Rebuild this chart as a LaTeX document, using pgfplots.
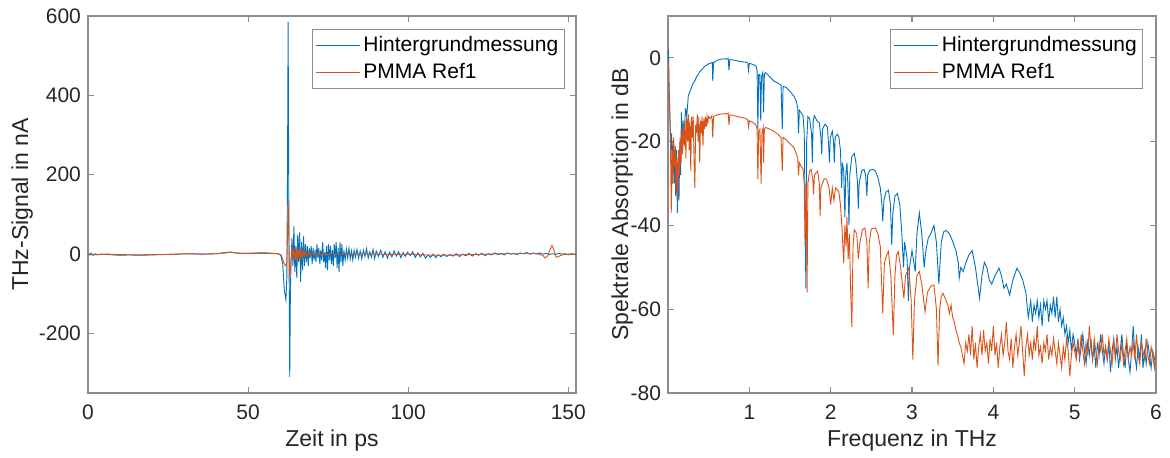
\documentclass[border=0pt]{standalone}
\usepackage{pgfplots}
\pgfplotsset{compat=1.18}
\usepackage{fontspec}
\setmainfont{Liberation Sans}
\definecolor{mblue}{RGB}{0,114,189}
\definecolor{morange}{RGB}{217,83,25}
\definecolor{axgray}{RGB}{140,140,140}
\definecolor{txtgray}{RGB}{38,38,38}
\pgfplotsset{
  mystyle/.style={
    scale only axis,
    width=244pt, height=188.5pt,
    axis line style={draw=axgray, line width=0.8pt},
    every tick/.style={draw=axgray, line width=0.6pt},
    major tick length=3pt,
    tick align=inside,
    tick label style={font=\fontsize{10.5}{12}\selectfont, text=txtgray},
    /pgf/number format/assume math mode=true,
    label style={font=\fontsize{11.5}{13}\selectfont, text=txtgray},
    xticklabel style={yshift=-2.5pt},
    legend cell align=left,
    legend style={draw=axgray, line width=0.5pt, font=\fontsize{10.5}{12}\selectfont,
      inner xsep=1.5pt, inner ysep=2pt, row sep=1.5pt, text=black,
      nodes={inner sep=1.5pt}},
    legend image code/.code={\draw[#1, line width=0.6pt] (0pt,0pt) -- (22pt,0pt);},
  }
}
\begin{document}
\begin{tikzpicture}
\useasboundingbox (-44pt,-32pt) rectangle (541pt,196.5pt);
\begin{axis}[mystyle,
  at={(0pt,0pt)}, anchor=south west,
  xmin=0, xmax=152.4, ymin=-350, ymax=600,
  xtick={0,50,100,150}, ytick={-200,0,200,400,600},
  xlabel={Zeit in ps}, ylabel={THz-Signal in nA},
  xlabel style={at={(axis description cs:0.5,-0.125)}, anchor=center},
  ylabel style={at={(axis description cs:-0.135,0.5)}, anchor=center},
  legend style={at={(axis description cs:0.977,0.966)}, anchor=north east},
]
\addplot[mblue, line width=0.45pt] table {
0 -1
1 2
1.6 -3
2.3 1
3 -2
4 0
6 -1
8 -2
10 -3
13 -2
16 -3
20 -2
24 -1
28 0
32 1
36 0
40 1
43 4
44.5 5
46 3
48 2
50 2
53 3
56 3
58 2
59.5 1
60.2 -3
60.8 -25
61.3 -90
61.8 -115
62.1 -60
62.3 200
62.5 585
62.7 150
62.85 -100
63.0 -310
63.2 -100
63.4 -20
63.7 40
64.0 -30
64.3 70
64.6 -45
64.9 20
65.2 -60
65.5 50
65.8 -20
66.1 55
66.4 -70
66.7 30
67.0 -40
67.3 45
67.6 -30
67.9 25
68.2 -20
68.5 20
68.8 -30
69.1 15
69.4 -10
69.7 20
70.0 -25
70.3 15
70.6 -15
70.9 10
71.2 -20
71.5 25
71.8 -10
72.1 15
72.4 -25
72.7 10
73.0 -15
73.3 30
73.6 -20
73.9 5
74.2 -35
74.5 20
74.8 -40
75.1 25
75.4 -15
75.7 20
76.0 -25
76.3 10
76.6 -30
76.9 25
77.2 -10
77.5 30
77.8 -35
78.1 15
78.4 -45
78.7 30
79.0 -20
79.3 25
79.6 -30
79.9 10
80.3 -15
80.7 12
81.1 -10
81.5 15
81.9 -12
82.3 8
82.7 -15
83.1 10
83.5 -8
84.0 12
84.5 -10
85.0 8
85.5 -12
86.0 10
86.5 -6
87.0 14
87.5 -10
88.0 6
88.5 -8
89.0 12
89.5 -12
90.0 8
90.7 -6
91.4 10
92.1 -8
92.8 6
93.5 -10
94.2 5
94.9 -7
95.6 8
96.3 -5
97.0 6
97.7 -9
98.4 4
99.1 -6
99.8 5
100.6 -4
101.4 6
102.2 -8
103.0 3
103.8 -7
104.6 2
105.4 -10
106.2 -2
107.0 -8
107.8 0
108.6 -9
109.4 -1
110.2 -7
111.0 0
112.0 -6
113.0 -1
114.0 -5
115.0 1
116.0 -6
117.0 0
118.0 -4
119.0 2
120.0 -5
121 1
122 -3
123 2
124 -4
125 1
126 -2
127 3
128 -1
129 2
130 -2
131 3
132 0
133 2
134 -1
135 3
136 1
137 4
138 0
139 3
140 1
141 3
142 0
143 2
144 -1
145 1
146 -1
147 2
148 0
149 1
150 -2
151 1
152.4 -1
};
\addlegendentry{Hintergrundmessung}
\addplot[morange, line width=0.45pt] table {
0 -2
3 -1
6 0
10 -1
15 -2
20 -1
25 -1
30 1
35 0
40 1
43 3
44.5 5
46 3
48 2
52 2
56 2
59 1
60.3 -2
60.8 -12
61.3 -25
61.8 -30
62.1 -20
62.3 40
62.5 131
62.7 60
62.85 -10
63.0 -60
63.2 -40
63.5 -5
63.8 15
64.1 -10
64.4 12
64.7 -15
65.0 8
65.3 -12
65.6 15
65.9 -8
66.2 10
66.5 -12
66.8 8
67.1 -6
67.4 10
67.7 -5
68 6
68.5 -6
69 5
69.5 -4
70 4
71 -4
72 3
73 -3
74 3
75 -3
76 2
78 -2
80 2
83 -1
86 1
90 0
95 -1
100 0
105 -2
110 -3
115 -2
120 -1
125 0
130 1
135 1
140 1
142 -3
142.8 -10
143.5 -5
144.2 10
144.9 22
145.5 10
146.2 -8
147 -6
148 -2
150 0
152.4 0
};
\addlegendentry{PMMA Ref1}
\end{axis}
\begin{axis}[mystyle,
  at={(290pt,0pt)}, anchor=south west,
  xmin=0, xmax=6, ymin=-80, ymax=10,
  xtick={1,2,3,4,5,6}, ytick={-80,-60,-40,-20,0},
  xlabel={Frequenz in THz}, ylabel={Spektrale Absorption in dB},
  xlabel style={at={(axis description cs:0.5,-0.125)}, anchor=center},
  ylabel style={at={(axis description cs:-0.094,0.5)}, anchor=center},
  legend style={at={(axis description cs:0.974,0.966)}, anchor=north east},
]
\addplot[mblue, line width=0.45pt] table {
0.005 2
0.015 -8
0.025 -15
0.035 -22
0.045 -18
0.055 -28
0.065 -20
0.075 -30
0.085 -24
0.095 -33
0.105 -22
0.115 -37
0.125 -26
0.135 -34
0.145 -20
0.155 -28
0.165 -13
0.175 -22
0.185 -15
0.2 -18
0.215 -12
0.23 -14
0.25 -9
0.27 -8
0.29 -7
0.31 -6
0.33 -5.5
0.35 -4.5
0.37 -4
0.39 -3.2
0.41 -3
0.43 -2.5
0.45 -2
0.47 -1.8
0.5 -1.4
0.53 -1.2
0.545 -1.1
0.55 -5.5
0.56 -1.2
0.6 -0.6
0.65 -0.3
0.7 -0.2
0.72 -0.3
0.74 -0.1
0.75 -3
0.76 -0.4
0.8 -0.5
0.85 -0.7
0.9 -0.9
0.95 -1
0.98 -1.2
0.99 -3
1.0 -1.3
1.05 -1.6
1.08 -1.9
1.095 -3
1.105 -17
1.115 -4
1.13 -4
1.14 -15
1.15 -4.5
1.165 -3.5
1.175 -13
1.185 -3.8
1.2 -3.5
1.25 -4.5
1.3 -5.5
1.35 -6
1.39 -6.5
1.405 -17
1.415 -6.8
1.45 -7
1.5 -8
1.55 -9.2
1.58 -10.5
1.595 -12
1.605 -18
1.615 -12.5
1.64 -13.2
1.66 -13.8
1.675 -18
1.685 -35
1.695 -55
1.705 -20
1.72 -14
1.74 -14.5
1.765 -18
1.775 -25
1.785 -15
1.8 -13.8
1.83 -15
1.86 -15.5
1.88 -19
1.89 -23
1.9 -17
1.93 -15.8
1.96 -16.5
1.975 -21
1.985 -25
1.995 -19
2.02 -17.5
2.035 -20
2.045 -25
2.055 -19
2.08 -18.2
2.1 -18.8
2.12 -22
2.135 -31
2.145 -25
2.16 -27
2.175 -38
2.185 -28
2.2 -25
2.215 -32
2.225 -40
2.235 -28
2.26 -23.5
2.29 -22.8
2.31 -25
2.33 -30
2.34 -36
2.35 -30
2.38 -27
2.41 -26.6
2.43 -28
2.445 -33
2.455 -28
2.48 -26.8
2.52 -26.6
2.55 -27
2.58 -28.5
2.61 -31
2.63 -35
2.64 -39
2.655 -34
2.68 -32
2.71 -31.6
2.735 -35
2.75 -44.6
2.765 -37
2.79 -33
2.82 -32.4
2.85 -35
2.875 -42
2.895 -50
2.91 -44
2.94 -48
2.955 -58
2.97 -50
3.0 -46
3.04 -51
3.06 -42
3.09 -37
3.12 -42
3.15 -50
3.17 -46
3.2 -43
3.23 -42
3.27 -40
3.3 -44
3.33 -54
3.36 -44
3.39 -41.5
3.42 -41.2
3.46 -42
3.5 -43.8
3.54 -46
3.57 -49
3.58 -52.6
3.6 -50
3.63 -51
3.66 -49
3.7 -47
3.74 -46
3.78 -50
3.83 -57.4
3.86 -52
3.89 -48.8
3.92 -50
3.95 -53
3.98 -54
4.02 -52
4.07 -50.2
4.1 -52
4.13 -55
4.16 -54
4.2 -56.6
4.24 -53
4.29 -50.2
4.33 -51.5
4.36 -53
4.4 -56
4.43 -62
4.46 -58
4.48 -63
4.5 -59
4.52 -61
4.54 -58
4.56 -62
4.58 -59
4.6 -64
4.62 -58
4.64 -60
4.66 -58
4.68 -63
4.7 -59
4.72 -61
4.74 -57
4.76 -62
4.78 -57
4.8 -63
4.82 -60
4.84 -64
4.86 -62
4.88 -66
4.9 -64
4.92 -68
4.94 -65
4.96 -70
4.98 -66
5.0 -68
5.02 -71
5.04 -67
5.06 -72
5.08 -69
5.1 -66
5.12 -70
5.14 -73
5.16 -68
5.18 -71
5.2 -67
5.22 -72
5.24 -69
5.26 -74
5.28 -68
5.3 -71
5.32 -66
5.34 -70
5.36 -73
5.38 -69
5.4 -72
5.42 -68
5.44 -75
5.46 -70
5.48 -67
5.5 -72
5.52 -69
5.54 -74
5.56 -70
5.58 -66
5.6 -71
5.62 -74
5.64 -68
5.66 -72
5.68 -75
5.7 -70
5.72 -64
5.74 -71
5.76 -74
5.78 -69
5.8 -72
5.82 -66
5.84 -74
5.86 -70
5.88 -73
5.9 -68
5.92 -71
5.94 -74
5.96 -70
5.98 -72
6.0 -71
};
\addlegendentry{Hintergrundmessung}
\addplot[morange, line width=0.45pt] table {
0.005 -1
0.012 -8
0.02 -12
0.03 -20
0.04 -37
0.05 -22
0.06 -30
0.07 -19
0.08 -26
0.09 -21
0.1 -32
0.11 -24
0.12 -34
0.13 -22
0.14 -28
0.15 -19
0.16 -25
0.17 -17
0.18 -23
0.19 -16
0.2 -21
0.21 -15
0.22 -24
0.23 -14
0.24 -20
0.25 -13.5
0.26 -22
0.27 -15
0.28 -27
0.29 -14
0.3 -19
0.31 -14
0.32 -24
0.33 -31
0.34 -16
0.35 -18
0.36 -13.5
0.37 -20
0.38 -14
0.39 -25
0.4 -15
0.41 -18
0.42 -14
0.43 -21
0.44 -14.5
0.45 -17
0.46 -14
0.47 -16.5
0.48 -14
0.49 -15.5
0.5 -14
0.52 -14.5
0.54 -13.8
0.55 -19
0.56 -14
0.6 -13.6
0.65 -13.4
0.7 -13.3
0.72 -13.4
0.74 -13.2
0.75 -16
0.76 -13.6
0.8 -13.7
0.85 -14
0.9 -14.2
0.95 -14.4
0.98 -14.8
0.99 -16.5
1.0 -15
1.05 -15.5
1.08 -16
1.095 -17
1.105 -29
1.115 -17.5
1.13 -17
1.145 -30
1.155 -18
1.17 -16.6
1.175 -25
1.185 -17
1.2 -16.6
1.25 -17
1.3 -17.5
1.35 -18.2
1.39 -19
1.405 -27
1.415 -19
1.45 -19.5
1.5 -20.5
1.55 -21.5
1.58 -23
1.595 -24
1.605 -28
1.615 -25
1.64 -26
1.66 -26.5
1.675 -30
1.685 -45
1.7 -30
1.71 -56
1.72 -30
1.74 -27
1.76 -26.6
1.78 -29
1.79 -32.6
1.8 -28
1.84 -27
1.86 -30
1.87 -37.8
1.88 -31
1.92 -28.8
1.95 -29
1.98 -31
2.0 -35
2.02 -31
2.04 -34
2.06 -31
2.08 -31.4
2.1 -32
2.12 -35
2.14 -41
2.16 -49
2.175 -40
2.19 -45
2.2 -38
2.215 -48
2.23 -42
2.245 -55
2.26 -64.2
2.275 -45
2.29 -41
2.32 -42
2.34 -48
2.36 -44
2.39 -41
2.42 -40.6
2.445 -44
2.46 -55
2.475 -44
2.5 -40.8
2.55 -40.6
2.58 -42
2.61 -45
2.64 -61
2.66 -49
2.69 -47
2.71 -46.2
2.74 -52
2.77 -66.2
2.79 -52
2.81 -47
2.83 -46.2
2.86 -50
2.9 -57.4
2.92 -52
2.96 -50.2
2.99 -58
3.01 -72
3.03 -58
3.06 -52
3.09 -51
3.12 -54
3.16 -60.6
3.19 -56
3.23 -54.5
3.27 -54.2
3.3 -60
3.32 -73.4
3.34 -60
3.36 -57
3.38 -56.2
3.4 -57
3.42 -58
3.44 -59
3.46 -61
3.48 -59
3.5 -62
3.52 -63
3.54 -65
3.56 -66.2
3.58 -68
3.6 -69
3.62 -71
3.64 -73
3.66 -68
3.68 -70
3.7 -66
3.72 -71
3.74 -64
3.76 -72
3.78 -68
3.8 -74
3.82 -69
3.84 -66
3.86 -71
3.88 -65
3.9 -70
3.92 -68
3.94 -73
3.96 -67
3.98 -70
4.0 -64
4.02 -71
4.04 -68
4.06 -74
4.08 -69
4.1 -66
4.12 -71
4.14 -68
4.16 -63
4.18 -70
4.2 -72
4.22 -67
4.24 -74
4.26 -69
4.28 -66
4.3 -71
4.32 -68
4.34 -64
4.36 -70
4.38 -76
4.4 -69
4.42 -66
4.44 -71
4.46 -68
4.48 -72
4.5 -67
4.52 -70
4.54 -64
4.56 -71
4.58 -69
4.6 -73
4.62 -68
4.64 -70
4.66 -66
4.68 -72
4.7 -69
4.72 -71
4.74 -67
4.76 -70
4.78 -73
4.8 -68
4.82 -71
4.84 -74
4.86 -69
4.88 -72
4.9 -67
4.92 -70
4.94 -76
4.96 -71
4.98 -68
5.0 -70
5.02 -72
5.04 -68
5.06 -71
5.08 -66
5.1 -70
5.12 -73
5.14 -68
5.16 -71
5.18 -64
5.2 -69
5.22 -72
5.24 -67
5.26 -70
5.28 -73
5.3 -68
5.32 -70
5.34 -66
5.36 -71
5.38 -69
5.4 -72
5.42 -67
5.44 -70
5.46 -73
5.48 -68
5.5 -71
5.52 -66
5.54 -70
5.56 -72
5.58 -68
5.6 -73
5.62 -70
5.64 -67
5.66 -72
5.68 -69
5.7 -71
5.72 -68
5.74 -72
5.76 -66
5.78 -71
5.8 -73
5.82 -68
5.84 -70
5.86 -72
5.88 -67
5.9 -71
5.92 -73
5.94 -69
5.96 -71
5.98 -74
6.0 -70
};
\addlegendentry{PMMA Ref1}
\end{axis}
\end{tikzpicture}
\end{document}
